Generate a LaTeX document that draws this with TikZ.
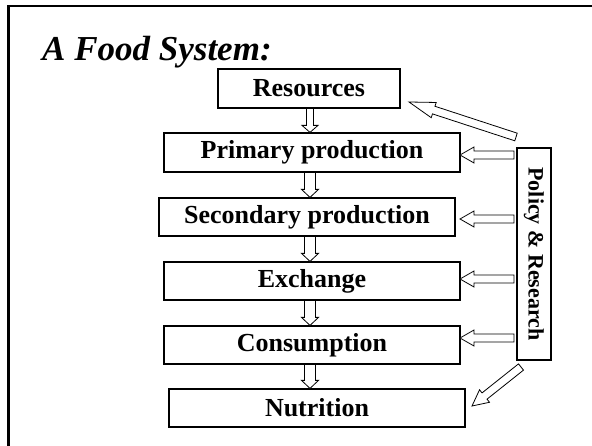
\documentclass[tikz,border=0pt]{standalone}
\usepackage{fontspec}
\setmainfont{Liberation Serif}
\usetikzlibrary{calc}
\newcommand\blockarrow[5]{%
  \coordinate (ba-h) at ($(#2)!#5pt!(#1)$);
  \draw[hollow] ($(#1)!#3pt!90:(#2)$) -- ($(ba-h)!#3pt!90:(#2)$) -- ($(ba-h)!#4pt!90:(#2)$) -- (#2)
     -- ($(ba-h)!#4pt!-90:(#2)$) -- ($(ba-h)!#3pt!-90:(#2)$) -- ($(#1)!#3pt!-90:(#2)$) -- cycle;}
\begin{document}
\begin{tikzpicture}[x=1pt,y=-1pt,
  box/.style={draw=black, line width=1.2pt, minimum width=#1, minimum height=38pt, inner sep=0pt,
    font=\fontsize{26}{30}\selectfont\bfseries},
  hollow/.style={draw=black, line width=0.8pt, fill=white, line join=miter}]
\useasboundingbox (0,0) rectangle (592,446);
% frame
\draw[line width=2.5pt] (8.5,446) -- (8.5,6) -- (592,6);
% title
\node[anchor=base west, inner sep=0pt, font=\fontsize{35}{40}\selectfont\bfseries\itshape] (title) at (42,61) {A Food System:};
% boxes
\node[box=182pt, minimum height=39pt] (res) at (309,88.5) {Resources};
\node[box=296pt, minimum height=39pt] (prim) at (312,152.5) {Primary production};
\node[box=296pt] (sec) at (307,217) {Secondary production};
\node[box=296pt] (exch) at (312,281) {Exchange};
\node[box=296pt] (cons) at (312,345) {Consumption};
\node[box=296pt] (nut) at (317,408) {Nutrition};
\node[draw=black, line width=1.2pt, rotate=-90, minimum width=212pt, minimum height=34pt, inner sep=0pt,
  font=\fontsize{22}{26}\selectfont\bfseries] (pol) at (534,254) {Policy \& Research};
% vertical arrows
\coordinate (colx) at (310,0);
\blockarrow{res.south -| colx}{prim.north -| colx}{3.5}{8}{7}
\blockarrow{prim.south -| colx}{sec.north -| colx}{5.5}{8.5}{8}
\blockarrow{sec.south -| colx}{exch.north -| colx}{5.5}{8.5}{8}
\blockarrow{exch.south -| colx}{cons.north -| colx}{5.5}{8.5}{8}
\blockarrow{cons.south -| colx}{nut.north -| colx}{5.5}{8.5}{8}
% policy arrows
\coordinate (tailx) at (514,0);
\coordinate (tipx) at (460,0);
\coordinate (y1) at (0,155);
\coordinate (y2) at (0,219);
\coordinate (y3) at (0,279);
\coordinate (y4) at (0,338);
\blockarrow{tailx |- y1}{tipx |- y1}{4}{8}{14}
\blockarrow{tailx |- y2}{tipx |- y2}{4}{8}{14}
\blockarrow{tailx |- y3}{tipx |- y3}{4}{8}{14}
\blockarrow{tailx |- y4}{tipx |- y4}{4}{8}{14}
% diagonal arrows
\coordinate (d1t) at (516,137);
\coordinate (d1h) at (409,102);
\blockarrow{d1t}{d1h}{4}{8}{26}
\coordinate (d2t) at (521,367);
\coordinate (d2h) at (472,406);
\blockarrow{d2t}{d2h}{4}{8}{16}
\end{tikzpicture}
\end{document}
